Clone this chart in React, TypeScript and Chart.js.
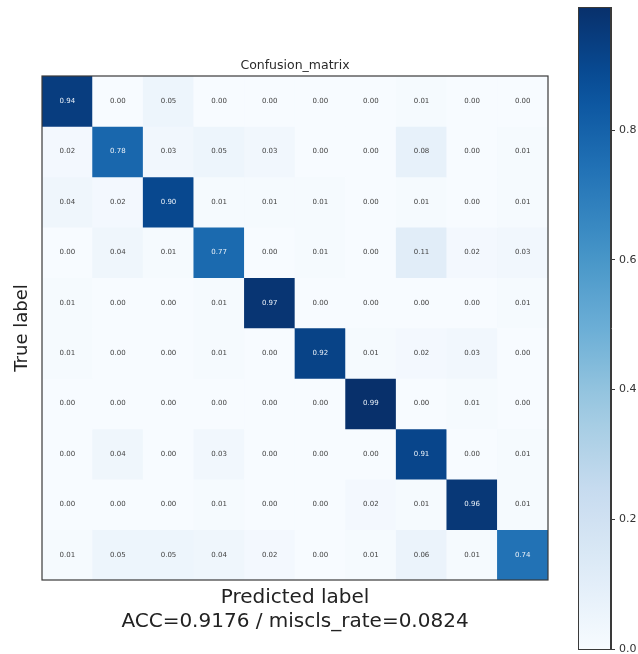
import React, { useEffect, useRef } from "react";
import { Chart, registerables } from "chart.js";

Chart.register(...registerables);

// ---- data ----
const classLabels = ["0", "1", "2", "3", "4", "5", "6", "7", "8", "9"];
const row0 = [0.94, 0.0, 0.05, 0.0, 0.0, 0.0, 0.0, 0.01, 0.0, 0.0];
const row1 = [0.02, 0.78, 0.03, 0.05, 0.03, 0.0, 0.0, 0.08, 0.0, 0.01];
const row2 = [0.04, 0.02, 0.9, 0.01, 0.01, 0.01, 0.0, 0.01, 0.0, 0.01];
const row3 = [0.0, 0.04, 0.01, 0.77, 0.0, 0.01, 0.0, 0.11, 0.02, 0.03];
const row4 = [0.01, 0.0, 0.0, 0.01, 0.97, 0.0, 0.0, 0.0, 0.0, 0.01];
const row5 = [0.01, 0.0, 0.0, 0.01, 0.0, 0.92, 0.01, 0.02, 0.03, 0.0];
const row6 = [0.0, 0.0, 0.0, 0.0, 0.0, 0.0, 0.99, 0.0, 0.01, 0.0];
const row7 = [0.0, 0.04, 0.0, 0.03, 0.0, 0.0, 0.0, 0.91, 0.0, 0.01];
const row8 = [0.0, 0.0, 0.0, 0.01, 0.0, 0.0, 0.02, 0.01, 0.96, 0.01];
const row9 = [0.01, 0.05, 0.05, 0.04, 0.02, 0.0, 0.01, 0.06, 0.01, 0.74];
const matrixRows = [row0, row1, row2, row3, row4, row5, row6, row7, row8, row9];
const colorbarTicks = [0, 0.2, 0.4, 0.6, 0.8];
const vMin = 0;
const vMax = 0.99;
const titleText = "Confusion_matrix";
const yTitle = "True label";
const xTitleLines = ["Predicted label", "ACC=0.9176 / miscls_rate=0.0824"];

// matplotlib "Blues"
const BLUES = [
  [247, 251, 255],
  [222, 235, 247],
  [198, 219, 239],
  [158, 202, 225],
  [107, 174, 214],
  [66, 146, 198],
  [33, 113, 181],
  [8, 81, 156],
  [8, 48, 107],
];

function blues(t: number): string {
  const tt = Math.max(0, Math.min(1, t));
  const p = tt * (BLUES.length - 1);
  const i = Math.min(BLUES.length - 2, Math.floor(p));
  const f = p - i;
  const a = BLUES[i];
  const b = BLUES[i + 1];
  const c = a.map((v, k) => Math.round(v + (b[k] - v) * f));
  return `rgb(${c[0]},${c[1]},${c[2]})`;
}

const norm = (v: number) => (v - vMin) / (vMax - vMin);
const FONT = "'DejaVu Sans', sans-serif";

export default function App() {
  const mainRef = useRef<HTMLCanvasElement | null>(null);
  const cbRef = useRef<HTMLCanvasElement | null>(null);

  useEffect(() => {
    document.body.style.margin = "0";

    const cellLabels = {
      id: "cellLabels",
      afterDatasetsDraw(chart: any) {
        const ctx = chart.ctx;
        ctx.save();
        ctx.font = `7px ${FONT}`;
        ctx.textAlign = "center";
        ctx.textBaseline = "middle";
        chart.data.datasets.forEach((ds: any, r: number) => {
          const meta = chart.getDatasetMeta(r);
          meta.data.forEach((el: any, c: number) => {
            const v = matrixRows[r][c];
            const props = el.getProps(["x", "y", "base"], true);
            const cy = (props.y + props.base) / 2;
            ctx.fillStyle = v > vMax / 2 ? "#e8f0f8" : "#444";
            ctx.fillText(v.toFixed(2), props.x, cy);
          });
        });
        ctx.restore();
      },
    };

    const frame = {
      id: "frame",
      afterDraw(chart: any) {
        const { left, top, right, bottom } = chart.chartArea;
        const ctx = chart.ctx;
        ctx.save();
        ctx.strokeStyle = "#3a3a3a";
        ctx.lineWidth = 1.2;
        ctx.strokeRect(left, top, right - left, bottom - top);
        ctx.restore();
      },
    };

    const datasets = matrixRows.map((row, r) => ({
      label: `row ${r}`,
      data: row.map(() => [r, r + 1]),
      backgroundColor: row.map((v) => blues(norm(v))),
      borderWidth: 0,
      barPercentage: 1,
      categoryPercentage: 1,
      grouped: false,
    }));

    const main = new Chart(mainRef.current as HTMLCanvasElement, {
      type: "bar",
      data: { labels: classLabels, datasets: datasets as any },
      options: {
        animation: false,
        responsive: false,
        maintainAspectRatio: false,
        layout: { padding: { left: 12, right: 90, top: 0, bottom: 0 } },
        plugins: {
          legend: { display: false },
          tooltip: { enabled: false },
          title: {
            display: true,
            text: titleText,
            fullSize: false,
            color: "#2a2a2a",
            font: { family: FONT, size: 12.5, weight: "normal" },
            padding: { top: 58.5, bottom: 2.5 },
          },
        },
        scales: {
          x: {
            type: "category",
            offset: true,
            grid: { display: false },
            border: { display: false },
            ticks: { display: false },
            afterFit: (scale: any) => {
              scale.height = 74;
            },
            title: {
              display: true,
              text: xTitleLines,
              color: "#222",
              font: { family: FONT, size: 20, lineHeight: 1.2 },
              padding: { top: 6, bottom: 20 },
            },
          },
          y: {
            type: "linear",
            min: 0,
            max: classLabels.length,
            reverse: true,
            grid: { display: false },
            border: { display: false },
            ticks: { display: false },
            afterFit: (scale: any) => {
              scale.width = 30;
            },
            title: {
              display: true,
              text: yTitle,
              color: "#222",
              font: { family: FONT, size: 18, lineHeight: 1.2 },
              padding: { top: 0, bottom: 8 },
            },
          },
        },
      },
      plugins: [cellLabels, frame],
    });

    const cbFrame = {
      id: "cbFrame",
      afterDatasetsDraw(chart: any) {
        const { left, top, right, bottom } = chart.chartArea;
        const ctx = chart.ctx;
        ctx.save();
        ctx.strokeStyle = "#3a3a3a";
        ctx.lineWidth = 1;
        ctx.strokeRect(left + 0.5, top + 0.5, right - left - 1, bottom - top);
        ctx.restore();
      },
    };

    const cb = new Chart(cbRef.current as HTMLCanvasElement, {
      type: "bar",
      data: {
        labels: ["cb"],
        datasets: [
          {
            data: [[vMin, vMax]] as any,
            barPercentage: 1,
            categoryPercentage: 1,
            borderWidth: 0,
            backgroundColor: (ctx: any) => {
              const area = ctx.chart.chartArea;
              if (!area) return blues(0.5);
              const g = ctx.chart.ctx.createLinearGradient(0, area.bottom, 0, area.top);
              for (let i = 0; i <= 20; i++) g.addColorStop(i / 20, blues(i / 20));
              return g;
            },
          },
        ],
      },
      options: {
        animation: false,
        responsive: false,
        maintainAspectRatio: false,
        layout: { padding: { left: 18, right: 0, top: 7, bottom: 5 } },
        plugins: { legend: { display: false }, tooltip: { enabled: false } },
        scales: {
          x: { display: false, offset: true },
          y: {
            position: "right",
            min: vMin,
            max: vMax,
            grid: { drawOnChartArea: false, drawTicks: true, tickLength: 4, color: "#3a3a3a" },
            border: { display: true, color: "#3a3a3a" },
            afterBuildTicks: (scale: any) => {
              scale.ticks = colorbarTicks.map((v) => ({ value: v }));
            },
            afterFit: (scale: any) => {
              scale.width = 27;
              scale.paddingTop = 0;
              scale.paddingBottom = 0;
            },
            ticks: {
              padding: 4,
              color: "#333",
              font: { family: FONT, size: 11 },
              callback: (v: any) => Number(v).toFixed(1),
            },
          },
        },
      },
      plugins: [cbFrame],
    });

    return () => {
      main.destroy();
      cb.destroy();
    };
  }, []);

  return (
    <div style={{ position: "fixed", left: 0, top: 0, width: 638, height: 654, background: "#fff", overflow: "hidden" }}>
      <canvas ref={mainRef} width={638} height={654} style={{ position: "absolute", left: 0, top: 0, width: 638, height: 654 }} />
      <canvas ref={cbRef} width={78} height={654} style={{ position: "absolute", left: 560, top: 0, width: 78, height: 654 }} />
    </div>
  );
}
